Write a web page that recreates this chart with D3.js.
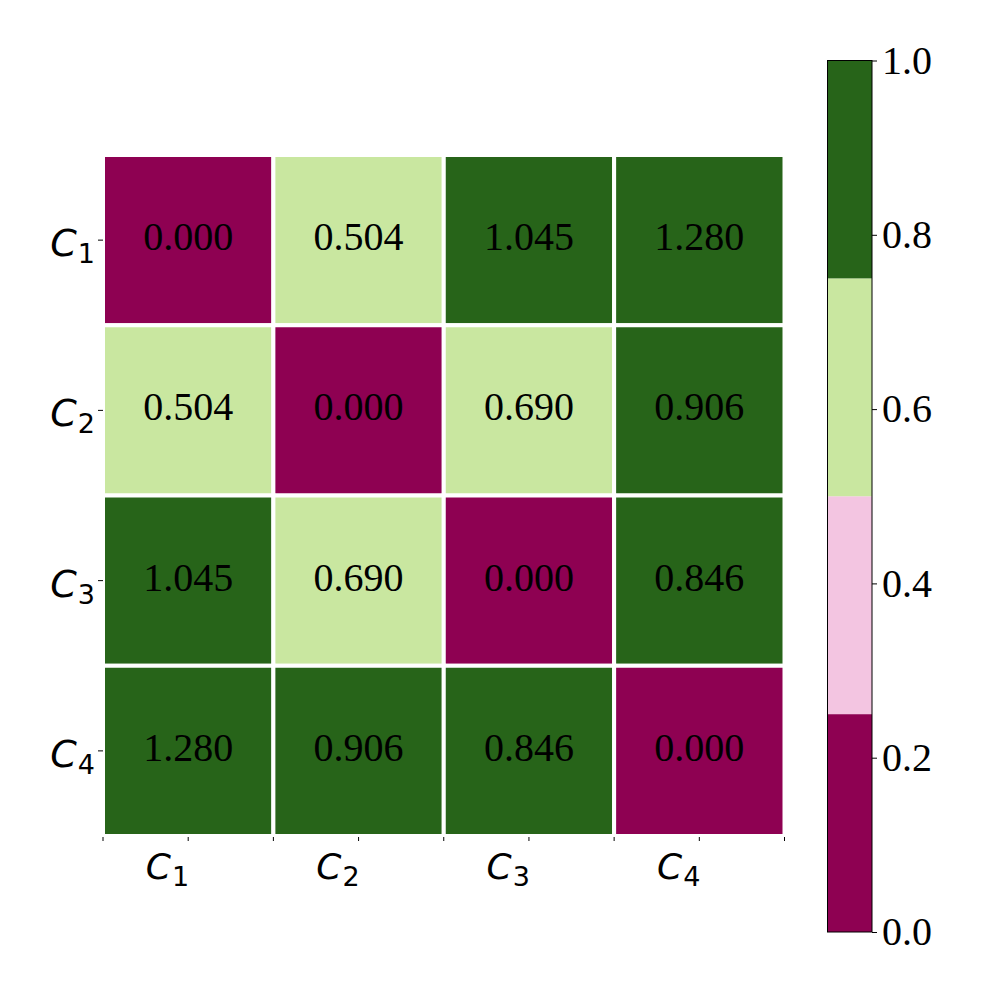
<!DOCTYPE html>
<html><head><meta charset="utf-8">
<script src="https://cdn.jsdelivr.net/npm/d3@7"></script>
<style>body{margin:0;background:#fff}</style>
</head><body>
<svg id="c" width="1000" height="1000"></svg>
<script>
const categories = ["1","2","3","4"];
const matrix = [
  [0.000, 0.504, 1.045, 1.280],
  [0.504, 0.000, 0.690, 0.906],
  [1.045, 0.690, 0.000, 0.846],
  [1.280, 0.906, 0.846, 0.000]
];
const paletteColors = ["#8e0152", "#f3c5e1", "#c9e7a0", "#276419"];
const colorbarTicks = [0.0, 0.2, 0.4, 0.6, 0.8, 1.0];

const svg = d3.select("#c");
const L = 103, R = 784.5, T = 155, B = 836;
const x = d3.scaleBand().domain(categories).range([L, R]);
const y = d3.scaleBand().domain(categories).range([T, B]);
const color = d3.scaleQuantize().domain([0, 1]).range(paletteColors);
const clampColor = v => color(Math.max(0, Math.min(1, v)));
const serif = "'Liberation Serif', 'Times New Roman', serif";
const fontSans = "'DejaVu Sans', sans-serif";

const cells = [];
matrix.forEach((row, i) => row.forEach((v, j) => cells.push({r: categories[i], c: categories[j], v})));

svg.append("g").selectAll("rect").data(cells).join("rect")
  .attr("x", d => x(d.c)).attr("y", d => y(d.r))
  .attr("width", x.bandwidth()).attr("height", y.bandwidth())
  .attr("fill", d => clampColor(d.v))
  .attr("stroke", "#fff").attr("stroke-width", 4);

svg.append("g").selectAll("text").data(cells).join("text")
  .attr("x", d => x(d.c) + x.bandwidth()/2)
  .attr("y", d => y(d.r) + y.bandwidth()/2 + 10)
  .attr("text-anchor", "middle")
  .attr("font-family", serif)
  .attr("font-size", 40)
  .attr("fill", "#000")
  .text(d => d.v.toFixed(3));

// x-axis ticks (centers + edges)
const xTickPos = [];
categories.forEach(c => { xTickPos.push(x(c)); xTickPos.push(x(c) + x.bandwidth()/2); });
xTickPos.push(R);
svg.append("g").selectAll("line").data(xTickPos).join("line")
  .attr("x1", d => d).attr("x2", d => d)
  .attr("y1", B + 1).attr("y2", B + 5)
  .attr("stroke", "#000").attr("stroke-width", 1);

// y-axis ticks
svg.append("g").selectAll("line").data(categories).join("line")
  .attr("x1", L - 5).attr("x2", L)
  .attr("y1", d => y(d) + y.bandwidth()/2).attr("y2", d => y(d) + y.bandwidth()/2)
  .attr("stroke", "#000").attr("stroke-width", 1);

function mathLabel(g, sub) {
  g.append("tspan").attr("font-style", "italic").text("C");
  g.append("tspan").attr("font-size", 27).attr("dy", 7).attr("dx", 1).text(sub);
}
svg.append("g").selectAll("text").data(categories).join("text")
  .attr("x", d => x(d) + x.bandwidth()/2 + 1)
  .attr("y", B + 43)
  .attr("text-anchor", "end")
  .attr("font-family", fontSans).attr("font-size", 36)
  .each(function(d){ mathLabel(d3.select(this), d); });

svg.append("g").selectAll("text").data(categories).join("text")
  .attr("x", L - 8)
  .attr("y", d => y(d) + y.bandwidth()/2 + 16)
  .attr("text-anchor", "end")
  .attr("font-family", fontSans).attr("font-size", 38)
  .each(function(d){ mathLabel(d3.select(this), d); });

// colorbar
const cbX = 827.5, cbW = 44.5, cbT = 60.5, cbB = 932;
const cy = d3.scaleLinear().domain([0, 1]).range([cbB, cbT]);
const bins = paletteColors.map((col, i) => ({col, lo: i/paletteColors.length, hi: (i+1)/paletteColors.length}));
svg.append("g").selectAll("rect").data(bins).join("rect")
  .attr("x", cbX).attr("width", cbW)
  .attr("y", d => cy(d.hi)).attr("height", d => cy(d.lo) - cy(d.hi))
  .attr("fill", d => d.col);
svg.append("rect").attr("x", cbX).attr("y", cbT).attr("width", cbW).attr("height", cbB - cbT)
  .attr("fill", "none").attr("stroke", "#000").attr("stroke-width", 1);

const axisG = svg.append("g").attr("transform", `translate(${cbX + cbW},0)`)
  .call(d3.axisRight(cy).tickValues(colorbarTicks).tickFormat(d3.format(".1f")).tickSize(5).tickPadding(5));
axisG.select(".domain").remove();
axisG.selectAll("text").attr("font-family", serif)
  .attr("font-size", 40).attr("fill", "#000");
</script>
</body></html>
